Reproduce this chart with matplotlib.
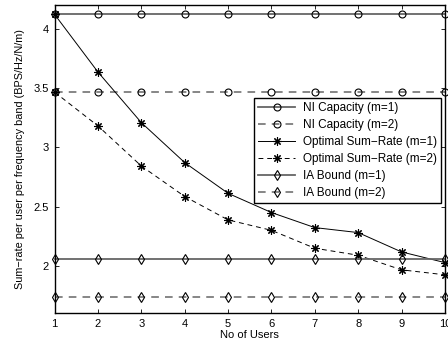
import matplotlib
matplotlib.use("Agg")
import matplotlib.pyplot as plt
import numpy as np

plt.rcParams['font.family'] = ['Liberation Sans', 'DejaVu Sans']

users = [1, 2, 3, 4, 5, 6, 7, 8, 9, 10]
ni_m1 = [4.12] * 10
ni_m2 = [3.465] * 10
opt_m1 = [4.12, 3.634, 3.208, 2.871, 2.612, 2.45, 2.323, 2.281, 2.118, 2.028]
opt_m2 = [3.465, 3.18, 2.842, 2.585, 2.388, 2.30, 2.149, 2.09, 1.967, 1.925]
ia_m1 = [2.062] * 10
ia_m2 = [1.735] * 10
labels = ['NI Capacity (m=1)', 'NI Capacity (m=2)',
          'Optimal Sum\u2212Rate (m=1)', 'Optimal Sum\u2212Rate (m=2)',
          'IA Bound (m=1)', 'IA Bound (m=2)']
yticks = [2, 2.5, 3, 3.5, 4]

fig = plt.figure(figsize=(4.48, 3.47), dpi=100)
ax = fig.add_axes([0.122, 0.097, 0.871, 0.8886])

gray = '0.4'
star = (8, 2, 0)
kw = dict(mfc='none', clip_on=False, mew=0.8)
ax.plot(users, ni_m1, '-', color=gray, lw=1.3, marker='o', ms=5, mec='k', label=labels[0], **kw)
ax.plot(users, ni_m2, '--', color=gray, lw=1.1, dashes=(5, 4), marker='o', ms=5, mec='k', label=labels[1], **kw)
ax.plot(users, opt_m1, '-', color='k', lw=0.7, marker=star, ms=6, mec='k', label=labels[2], **kw)
ax.plot(users, opt_m2, '--', color='k', lw=0.7, dashes=(5, 4), marker=star, ms=6, mec='k', label=labels[3], **kw)
ax.plot(users, ia_m1, '-', color=gray, lw=1.3, marker='d', ms=5.5, mec='k', label=labels[4], **kw)
ax.plot(users, ia_m2, '--', color=gray, lw=1.1, dashes=(5, 4), marker='d', ms=5.5, mec='k', label=labels[5], **kw)

ax.set_xlim(1, 10)
ax.set_ylim(1.6, 4.2)
ax.set_xticks(users)
ax.set_yticks(yticks)
ax.set_yticklabels(['2', '2.5', '3', '3.5', '4'])
ax.tick_params(direction='in', top=True, right=True, length=3, labelsize=8, width=0.6, pad=4)
for s in ax.spines.values():
    s.set_linewidth(1.0)

ax.set_xlabel('No of Users', fontsize=8, labelpad=1)
ax.set_ylabel('Sum\u2212rate per user per frequency band (BPS/Hz/N/m)', fontsize=7.8, labelpad=6)

leg = ax.legend(loc='upper right', bbox_to_anchor=(0.9895, 0.698), fontsize=8.5,
                frameon=True, fancybox=False, edgecolor='k', framealpha=1,
                handlelength=3.2, handletextpad=0.6, borderpad=0.35, labelspacing=0.42,
                borderaxespad=0)
leg.get_frame().set_linewidth(1.0)

fig.savefig('out.png', dpi=100)
